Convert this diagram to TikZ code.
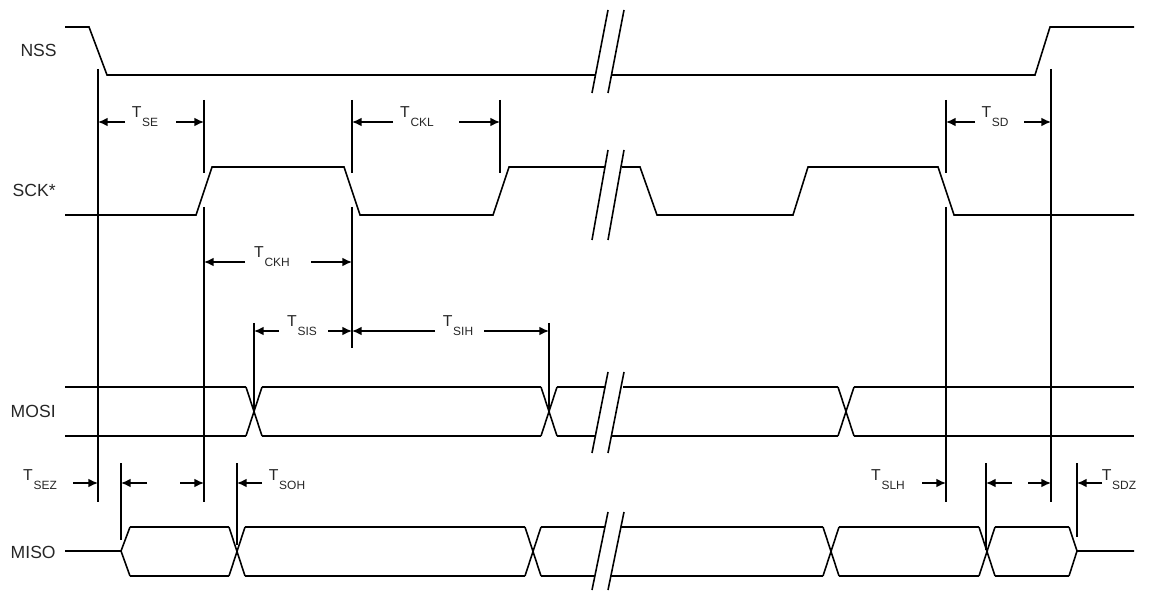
\documentclass[tikz,border=0pt]{standalone}
\usepackage{fontspec}
\setmainfont{Liberation Sans}
\usetikzlibrary{arrows.meta}

\newcommand{\tsub}[1]{{\fontsize{9}{10}\selectfont T\kern0.4pt\lower5.2pt\hbox{\fontsize{6.8}{8}\selectfont #1}}}

\tikzset{
  sig/.style={line width=0.9pt},
  guide/.style={line width=0.9pt},
  dim/.style={-{Latex[length=5.5pt,width=5pt]}, line width=0.9pt},
  signame/.style={anchor=east, inner sep=0pt, text=black!85, font=\fontsize{10}{12}\selectfont},
  tlab/.style={inner sep=0pt, text=black!85}
}

\begin{document}
\begin{tikzpicture}[x=0.02cm,y=-0.02cm]
        \useasboundingbox (0,0) rectangle (1150,591);

        % Signal names
        \node (nss)  [signame] at (57,50)  {NSS};
        \node (sck)  [signame] at (56,190) {SCK*};
        \node (mosi) [signame] at (56,411) {MOSI};
        \node (miso) [signame] at (56,552) {MISO};

        % NSS
        \draw[sig] (65,27) -- (89,27) -- (107,75) -- (595,75);
        \draw[sig] (612,75) -- (1035,75) -- (1050,27) -- (1134,27);

        % SCK
        \draw[sig] (65,215) -- (196,215) -- (212,167) -- (344,167) -- (360,215)
                   -- (493,215) -- (509,167) -- (605,167);
        \draw[sig] (622,167) -- (640,167) -- (657,215) -- (793,215) -- (808,167)
                   -- (938,167) -- (954,215) -- (1134,215);

        % MOSI
        \foreach \c in {254,549,846}
          \draw[sig] (\c-8,387) -- (\c+8,436) (\c-8,436) -- (\c+8,387);
        \draw[sig] (65,387) -- (246,387) (262,387) -- (541,387) (557,387) -- (605,387)
                   (623,387) -- (838,387) (854,387) -- (1134,387);
        \draw[sig] (65,436) -- (246,436) (262,436) -- (541,436) (557,436) -- (595,436)
                   (612,436) -- (838,436) (854,436) -- (1134,436);

        % MISO
        \draw[sig] (65,551) -- (121,551) -- (130,527) (121,551) -- (130,576);
        \draw[sig] (1069,527) -- (1077,551) -- (1069,576) (1077,551) -- (1134,551);
        \foreach \c in {237,533,831,987}
          \draw[sig] (\c-8,527) -- (\c+8,576) (\c-8,576) -- (\c+8,527);
        \draw[sig] (130,527) -- (229,527) (245,527) -- (525,527) (541,527) -- (605,527)
                   (621,527) -- (823,527) (839,527) -- (979,527) (995,527) -- (1069,527);
        \draw[sig] (130,576) -- (229,576) (245,576) -- (525,576) (541,576) -- (595,576)
                   (611,576) -- (823,576) (839,576) -- (979,576) (995,576) -- (1069,576);

        % Break marks
        \foreach \top/\bot in {10/93,150/240,372/453,512/590}
          \foreach \dx in {0,16}
            \draw[sig] (592+\dx,\bot) -- (608+\dx,\top);

        % Guide lines
        \draw[guide] (98,69) -- (98,502);
        \draw[guide] (204,100) -- (204,173) (204,207) -- (204,502);
        \draw[guide] (352,100) -- (352,173) (352,207) -- (352,348);
        \draw[guide] (500,100) -- (500,173);
        \draw[guide] (254,323) -- (254,411);
        \draw[guide] (549,323) -- (549,411);
        \draw[guide] (946,100) -- (946,173) (946,207) -- (946,502);
        \draw[guide] (1051,69) -- (1051,502);
        \draw[guide] (121,463) -- (121,540);
        \draw[guide] (237,463) -- (237,545);
        \draw[guide] (986,463) -- (986,550);
        \draw[guide] (1077,463) -- (1077,537);

        % Timing labels
        \node (tse)  [tlab] at (145,117)  {\tsub{SE}};
        \node (tckl) [tlab] at (417,117)  {\tsub{CKL}};
        \node (tsd)  [tlab] at (995,117)  {\tsub{SD}};
        \node (tckh) [tlab] at (272,257)  {\tsub{CKH}};
        \node (tsis) [tlab] at (302,326)  {\tsub{SIS}};
        \node (tsih) [tlab] at (458,326)  {\tsub{SIH}};
        \node (tsez) [tlab] at (40,480)   {\tsub{SEZ}};
        \node (tsoh) [tlab] at (287,480)  {\tsub{SOH}};
        \node (tslh) [tlab] at (888,480)  {\tsub{SLH}};
        \node (tsdz) [tlab] at (1119,480) {\tsub{SDZ}};

        % Timing arrows
        \draw[dim] (125,122) -- (98,122);
        \draw[dim] (176,122) -- (204,122);
        \draw[dim] (393,122) -- (352,122);
        \draw[dim] (459,122) -- (500,122);
        \draw[dim] (975,122) -- (946,122);
        \draw[dim] (1024,122) -- (1051,122);
        \draw[dim] (245,262) -- (204,262);
        \draw[dim] (311,262) -- (352,262);
        \draw[dim] (279,331) -- (254,331);
        \draw[dim] (328,331) -- (352,331);
        \draw[dim] (435,331) -- (352,331);
        \draw[dim] (484,331) -- (549,331);
        \draw[dim] (73,483) -- (98,483);
        \draw[dim] (147,483) -- (121,483);
        \draw[dim] (180,483) -- (204,483);
        \draw[dim] (262,483) -- (237,483);
        \draw[dim] (922,483) -- (946,483);
        \draw[dim] (1012,483) -- (986,483);
        \draw[dim] (1028,483) -- (1051,483);
        \draw[dim] (1102,483) -- (1077,483);

    \end{tikzpicture}
\end{document}
